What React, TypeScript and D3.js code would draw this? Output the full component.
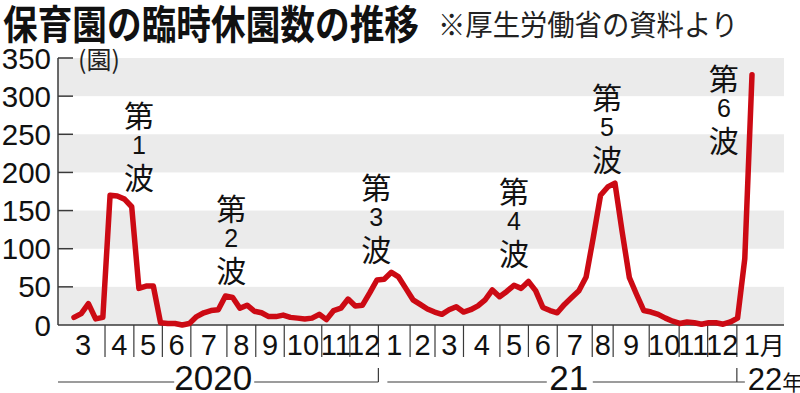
import React from "react";
import * as d3 from "d3";

// weekly number of temporarily closed nursery schools (from Mar 2020 to Jan 2022)
const weeklyClosures: number[] = [
  10, 15, 28, 8, 10, 170, 169, 165, 155, 48,
  51, 51, 3, 2, 2, 0, 2, 11, 16, 19,
  20, 38, 36, 22, 26, 18, 16, 11, 11, 13,
  10, 9, 8, 9, 14, 7, 19, 22, 34, 25,
  26, 42, 59, 60, 69, 63, 48, 33, 27, 21,
  17, 14, 20, 24, 17, 20, 25, 33, 46, 37,
  44, 52, 48, 57, 45, 23, 19, 16, 27, 36,
  45, 63, 115, 170, 181, 186, 122, 62, 40, 19,
  17, 14, 9, 5, 2, 4, 3, 1, 3, 3,
  1, 4, 9, 87, 328,
];

const yTicks: number[] = [0, 50, 100, 150, 200, 250, 300, 350];
const bandStarts: number[] = [0, 100, 200, 300];

const monthLabels: string[] = [
  "3", "4", "5", "6", "7", "8", "9", "10", "11", "12",
  "1", "2", "3", "4", "5", "6", "7", "8", "9", "10", "11", "12", "1",
];
// month boundaries expressed in week-index units
const monthBounds: number[] = [
  -1.8, 4.3, 8.3, 12.25, 16.2, 21.2, 25.2, 29.15, 34.35, 38.25, 42.2,
  46.6, 50.05, 54.0, 59.05, 63.0, 67.0, 71.85, 74.75, 79.75, 83.9, 87.85, 91.9, 99.5,
];

const yearLabels: string[] = ["2020", "21", "22"];
const yearCenters: number[] = [19.3, 68.6, 93.4];
const yearBreaks: number[] = [42.2, 91.9];

const waveNumbers: string[] = ["1", "2", "3", "4", "5", "6"];
const waveAt: number[] = [9.0, 21.8, 41.9, 61.0, 73.9, 90.1];
const waveTop: number[] = [277, 155, 182, 177, 300, 325];

const RED = "#cc0a14";
const AXIS = "#3a3a3a";
const BAND = "#ebebeb";
const NARROW_FONT = "'Liberation Sans Narrow', 'Liberation Sans', 'Noto Sans', sans-serif";
const NUM_FONT = "'Liberation Sans', 'Noto Sans', sans-serif";
const JP_FONT = "'Noto Sans CJK JP', 'Noto Sans', sans-serif";

export default function App() {
  const left = 58;
  const right = 784;
  const x = d3.scaleLinear().domain([0, weeklyClosures.length - 1]).range([74, 752]);
  const y = d3.scaleLinear().domain([0, 350]).range([325, 58]);
  const line = d3
    .line<number>()
    .x((_, i) => x(i))
    .y((d) => y(d));

  const axisY = y(0);
  const sepBottom = 357;
  const yearLineY = 382;

  // year segment lines
  const yearSegments: { x1: number; x2: number }[] = [];
  const segStart = [left, x(yearBreaks[0]) + 9];
  const segEnd = [x(yearBreaks[0]), x(yearBreaks[1]) + 8];
  const halfW = [30, 13];
  for (let k = 0; k < 2; k++) {
    const cx = x(yearCenters[k]);
    yearSegments.push({ x1: segStart[k], x2: cx - halfW[k] - 9 });
    yearSegments.push({ x1: cx + halfW[k] + 11, x2: segEnd[k] });
  }

  return (
    <svg
      width={800}
      height={393}
      viewBox="0 0 800 393"
      style={{ position: "absolute", left: 0, top: 0, background: "#fff" }}
    >
      <rect x={0} y={0} width={800} height={393} fill="#fff" />
      {/* title */}
      <text
        x={3}
        y={22}
        fontFamily={JP_FONT}
        fontWeight={700}
        fontSize={40}
        dominantBaseline="central"
        textLength={416}
        lengthAdjust="spacingAndGlyphs"
        fill="#111"
      >
        保育園の臨時休園数の推移
      </text>
      <text
        x={438}
        y={23}
        fontFamily={JP_FONT}
        fontWeight={400}
        fontSize={29}
        dominantBaseline="central"
        textLength={300}
        lengthAdjust="spacingAndGlyphs"
        fill="#222"
      >
        ※厚生労働省の資料より
      </text>

      {/* bands */}
      {bandStarts.map((b) => (
        <rect
          key={b}
          x={left}
          y={y(b + 50)}
          width={right - left}
          height={y(b) - y(b + 50)}
          fill={BAND}
        />
      ))}

      {/* y axis */}
      <line x1={left} x2={left} y1={y(350)} y2={axisY} stroke={AXIS} strokeWidth={1.5} />
      {yTicks.map((t) => (
        <g key={t}>
          {t > 0 && (
            <line x1={left} x2={left + 15} y1={y(t)} y2={y(t)} stroke={AXIS} strokeWidth={1.5} />
          )}
          <text
            x={51}
            y={y(t) + 10.5}
            textAnchor="end"
            fontFamily={NUM_FONT}
            fontSize={29.5}
            fill="#111"
          >
            {t}
          </text>
        </g>
      ))}
      <text x={78} y={58} fontFamily={JP_FONT} fontSize={25} dominantBaseline="central" fill="#222">
        (園)
      </text>

      {/* x axis */}
      <line x1={left} x2={right} y1={axisY} y2={axisY} stroke={AXIS} strokeWidth={1.5} />
      {monthBounds.slice(1, -1).map((b, i) => (
        <line
          key={i}
          x1={x(b)}
          x2={x(b)}
          y1={axisY}
          y2={sepBottom}
          stroke={AXIS}
          strokeWidth={1.2}
        />
      ))}
      {monthLabels.map((m, i) => {
        const cx = x((monthBounds[i] + monthBounds[i + 1]) / 2);
        const last = i === monthLabels.length - 1;
        return (
          <text
            key={i}
            x={cx}
            y={355}
            textAnchor="middle"
            fontFamily={NARROW_FONT}
            fontSize={29}
            fill="#111"
          >
            {m}
            {last && (
              <tspan fontFamily={JP_FONT} fontSize={25}>
                月
              </tspan>
            )}
          </text>
        );
      })}

      {/* years */}
      {yearSegments.map((s, i) => (
        <line key={i} x1={s.x1} x2={s.x2} y1={yearLineY} y2={yearLineY} stroke={AXIS} strokeWidth={1.2} />
      ))}
      {yearBreaks.map((b, i) => (
        <line key={i} x1={x(b)} x2={x(b)} y1={368} y2={yearLineY} stroke={AXIS} strokeWidth={1.2} />
      ))}
      {yearLabels.map((yl, i) => {
        const last = i === yearLabels.length - 1;
        return (
          <text
            key={yl}
            x={x(yearCenters[i])}
            y={390}
            textAnchor={last ? "start" : "middle"}
            fontFamily={NARROW_FONT}
            fontSize={last ? 31 : 35}
            fill="#111"
          >
            {yl}
            {last && (
              <tspan fontFamily={JP_FONT} fontSize={21}>
                年
              </tspan>
            )}
          </text>
        );
      })}

      {/* wave labels */}
      {waveNumbers.map((n, i) => {
        const cx = x(waveAt[i]);
        const cy = y(waveTop[i]);
        return (
          <g key={n} fill="#111">
            <text x={cx} y={cy} textAnchor="middle" dominantBaseline="central" fontFamily={JP_FONT} fontSize={30}>
              第
            </text>
            <text x={cx} y={cy + 40} textAnchor="middle" fontFamily={NUM_FONT} fontSize={25}>
              {n}
            </text>
            <text x={cx} y={cy + 62} textAnchor="middle" dominantBaseline="central" fontFamily={JP_FONT} fontSize={30}>
              波
            </text>
          </g>
        );
      })}

      {/* data line */}
      <path
        d={line(weeklyClosures) || ""}
        fill="none"
        stroke={RED}
        strokeWidth={5.5}
        strokeLinejoin="round"
        strokeLinecap="round"
      />
    </svg>
  );
}
